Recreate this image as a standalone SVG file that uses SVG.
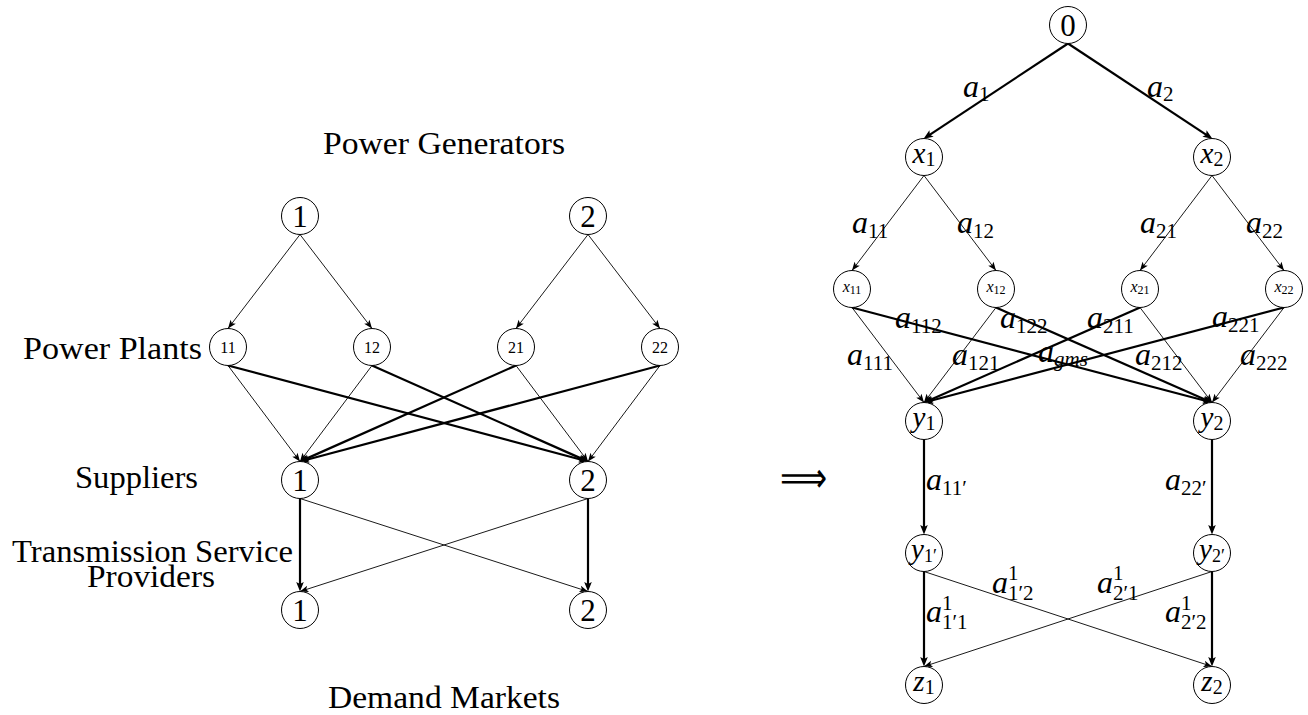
<svg xmlns="http://www.w3.org/2000/svg" width="1308" height="715" viewBox="0 0 1308 715">
<style>
  .bg{fill:#ffffff}
  .n{fill:#ffffff;stroke:#000;stroke-width:1}
  .t{stroke:#000;stroke-width:0.9;fill:none;marker-end:url(#ah)}
  .k{stroke:#000;stroke-width:2.2;fill:none;marker-end:url(#ahk)}
  text{font-family:"Liberation Serif","Times New Roman",serif;fill:#000}
  .big{font-size:31px;text-anchor:middle}
  .sm{font-size:16px;text-anchor:middle}
  .cap{font-size:32px}
  .it{font-style:italic}
  .lb{font-size:32px}
  .sub{font-size:21px}
</style>
<defs>
  <marker id="ah" viewBox="-9 -4 10 8" refX="0" refY="0" markerWidth="10" markerHeight="8" markerUnits="userSpaceOnUse" orient="auto">
    <path d="M0,0 L-8.5,-3.3 L-6.5,0 L-8.5,3.3 Z" fill="#000"/>
  </marker>
  <marker id="ahk" viewBox="-6 -4.5 11 9" refX="0" refY="0" markerWidth="11" markerHeight="9" markerUnits="userSpaceOnUse" orient="auto">
    <path d="M4.5,0 L-5,-3.8 L-3,0 L-5,3.8 Z" fill="#000"/>
  </marker>
</defs>
<rect class="bg" x="0" y="0" width="1308" height="715"/>

<g id="connectors">
  <!-- left thin -->
  <line class="t" x1="300" y1="234.5" x2="228" y2="328.5"/>
  <line class="t" x1="300" y1="234.5" x2="372" y2="328.5"/>
  <line class="t" x1="588" y1="234.5" x2="516" y2="328.5"/>
  <line class="t" x1="588" y1="234.5" x2="660" y2="328.5"/>
  <line class="t" x1="228" y1="365.5" x2="300" y2="461.5"/>
  <line class="t" x1="372" y1="365.5" x2="300" y2="461.5"/>
  <line class="t" x1="516" y1="365.5" x2="588" y2="461.5"/>
  <line class="t" x1="660" y1="365.5" x2="588" y2="461.5"/>
  <line class="t" x1="300" y1="498.5" x2="588" y2="591.5"/>
  <line class="t" x1="588" y1="498.5" x2="300" y2="591.5"/>
  <!-- left thick -->
  <line class="k" x1="228" y1="365.5" x2="584.14" y2="460.47"/>
  <line class="k" x1="372" y1="365.5" x2="584.34" y2="459.88"/>
  <line class="k" x1="516" y1="365.5" x2="303.66" y2="459.88"/>
  <line class="k" x1="660" y1="365.5" x2="303.86" y2="460.47"/>
  <line class="k" x1="300" y1="498.5" x2="300" y2="587"/>
  <line class="k" x1="588" y1="498.5" x2="588" y2="587"/>
  <!-- right thick -->
  <line class="k" x1="1068" y1="43.5" x2="927.34" y2="136.3"/>
  <line class="k" x1="1068" y1="43.5" x2="1208.66" y2="136.3"/>
  <line class="k" x1="852" y1="307.5" x2="1208.13" y2="401.48"/>
  <line class="k" x1="996" y1="307.5" x2="1208.34" y2="400.89"/>
  <line class="k" x1="1140" y1="307.5" x2="927.66" y2="400.89"/>
  <line class="k" x1="1284" y1="307.5" x2="927.87" y2="401.48"/>
  <line class="k" x1="924" y1="439.5" x2="924" y2="530"/>
  <line class="k" x1="1212" y1="439.5" x2="1212" y2="530"/>
  <line class="k" x1="924" y1="571.5" x2="924" y2="662"/>
  <line class="k" x1="1212" y1="571.5" x2="1212" y2="662"/>
  <!-- right thin -->
  <line class="t" x1="924" y1="175.5" x2="852" y2="270.5"/>
  <line class="t" x1="924" y1="175.5" x2="996" y2="270.5"/>
  <line class="t" x1="1212" y1="175.5" x2="1140" y2="270.5"/>
  <line class="t" x1="1212" y1="175.5" x2="1284" y2="270.5"/>
  <line class="t" x1="852" y1="307.5" x2="924" y2="402.5"/>
  <line class="t" x1="996" y1="307.5" x2="924" y2="402.5"/>
  <line class="t" x1="1140" y1="307.5" x2="1212" y2="402.5"/>
  <line class="t" x1="1284" y1="307.5" x2="1212" y2="402.5"/>
  <line class="t" x1="924" y1="571.5" x2="1212" y2="666.5"/>
  <line class="t" x1="1212" y1="571.5" x2="924" y2="666.5"/>
</g>

<!-- left nodes -->
<g id="g1"><circle class="n" cx="300" cy="216" r="18.5"/><text class="big" x="300" y="226.5">1</text></g>
<g id="g2"><circle class="n" cx="588" cy="216" r="18.5"/><text class="big" x="588" y="226.5">2</text></g>
<g id="p11"><circle class="n" cx="228" cy="347" r="18.5"/><text class="sm" x="228" y="352.5">11</text></g>
<g id="p12"><circle class="n" cx="372" cy="347" r="18.5"/><text class="sm" x="372" y="352.5">12</text></g>
<g id="p21"><circle class="n" cx="516" cy="347" r="18.5"/><text class="sm" x="516" y="352.5">21</text></g>
<g id="p22"><circle class="n" cx="660" cy="347" r="18.5"/><text class="sm" x="660" y="352.5">22</text></g>
<g id="s1"><circle class="n" cx="300" cy="480" r="18.5"/><text class="big" x="300" y="490.5">1</text></g>
<g id="s2"><circle class="n" cx="588" cy="480" r="18.5"/><text class="big" x="588" y="490.5">2</text></g>
<g id="d1"><circle class="n" cx="300" cy="610" r="18.5"/><text class="big" x="300" y="620.5">1</text></g>
<g id="d2"><circle class="n" cx="588" cy="610" r="18.5"/><text class="big" x="588" y="620.5">2</text></g>

<!-- left captions -->
<g id="captions">
  <text class="cap" x="323" y="154" textLength="242" lengthAdjust="spacingAndGlyphs">Power Generators</text>
  <text class="cap" x="23" y="359" textLength="179" lengthAdjust="spacingAndGlyphs">Power Plants</text>
  <text class="cap" x="75" y="488" textLength="123" lengthAdjust="spacingAndGlyphs">Suppliers</text>
  <text class="cap" x="12" y="562" textLength="281" lengthAdjust="spacingAndGlyphs">Transmission Service</text>
  <text class="cap" x="87" y="587" textLength="128" lengthAdjust="spacingAndGlyphs">Providers</text>
  <text class="cap" x="328" y="708" textLength="232" lengthAdjust="spacingAndGlyphs">Demand Markets</text>
</g>

<g id="implies"><text x="780" y="492" font-family="DejaVu Sans, sans-serif" font-size="42" textLength="47" lengthAdjust="spacingAndGlyphs">⟹</text></g>

<!-- right nodes -->
<g id="n0"><circle class="n" cx="1068" cy="25" r="18.5"/><text class="big" x="1068" y="35.5">0</text></g>
<g id="x1"><circle class="n" cx="924" cy="157" r="18.5"/><text class="big" x="924" y="163"><tspan class="it" font-size="29">x</tspan><tspan font-size="20" dy="3">1</tspan></text></g>
<g id="x2"><circle class="n" cx="1212" cy="157" r="18.5"/><text class="big" x="1212" y="163"><tspan class="it" font-size="29">x</tspan><tspan font-size="20" dy="3">2</tspan></text></g>
<g id="x11"><circle class="n" cx="852" cy="289" r="18.5"/><text class="sm" x="852" y="292"><tspan class="it">x</tspan><tspan font-size="12" dy="2">11</tspan></text></g>
<g id="x12"><circle class="n" cx="996" cy="289" r="18.5"/><text class="sm" x="996" y="292"><tspan class="it">x</tspan><tspan font-size="12" dy="2">12</tspan></text></g>
<g id="x21"><circle class="n" cx="1140" cy="289" r="18.5"/><text class="sm" x="1140" y="292"><tspan class="it">x</tspan><tspan font-size="12" dy="2">21</tspan></text></g>
<g id="x22"><circle class="n" cx="1284" cy="289" r="18.5"/><text class="sm" x="1284" y="292"><tspan class="it">x</tspan><tspan font-size="12" dy="2">22</tspan></text></g>
<g id="y1"><circle class="n" cx="924" cy="421" r="18.5"/><text class="big" x="924" y="427"><tspan class="it" font-size="29">y</tspan><tspan font-size="20" dy="3">1</tspan></text></g>
<g id="y2"><circle class="n" cx="1212" cy="421" r="18.5"/><text class="big" x="1212" y="427"><tspan class="it" font-size="29">y</tspan><tspan font-size="20" dy="3">2</tspan></text></g>
<g id="y1p"><circle class="n" cx="924" cy="553" r="18.5"/><text class="big" x="924" y="559"><tspan class="it" font-size="29">y</tspan><tspan font-size="18" dy="3">1′</tspan></text></g>
<g id="y2p"><circle class="n" cx="1212" cy="553" r="18.5"/><text class="big" x="1212" y="559"><tspan class="it" font-size="29">y</tspan><tspan font-size="18" dy="3">2′</tspan></text></g>
<g id="z1"><circle class="n" cx="924" cy="685" r="18.5"/><text class="big" x="924" y="691"><tspan class="it" font-size="29">z</tspan><tspan font-size="20" dy="3">1</tspan></text></g>
<g id="z2"><circle class="n" cx="1212" cy="685" r="18.5"/><text class="big" x="1212" y="691"><tspan class="it" font-size="29">z</tspan><tspan font-size="20" dy="3">2</tspan></text></g>

<!-- edge labels -->
<g id="edge-labels" class="lb">
  <text class="lb" x="963" y="97"><tspan class="it">a</tspan><tspan class="sub" dy="4">1</tspan></text>
  <text class="lb" x="1147" y="97"><tspan class="it">a</tspan><tspan class="sub" dy="4">2</tspan></text>
  <text class="lb" x="852" y="233"><tspan class="it">a</tspan><tspan class="sub" dy="5">11</tspan></text>
  <text class="lb" x="957" y="233"><tspan class="it">a</tspan><tspan class="sub" dy="5">12</tspan></text>
  <text class="lb" x="1140" y="233"><tspan class="it">a</tspan><tspan class="sub" dy="5">21</tspan></text>
  <text class="lb" x="1246" y="233"><tspan class="it">a</tspan><tspan class="sub" dy="5">22</tspan></text>
  <text class="lb" x="895" y="328"><tspan class="it">a</tspan><tspan class="sub" dy="5">112</tspan></text>
  <text class="lb" x="1000" y="328"><tspan class="it">a</tspan><tspan class="sub" dy="5">122</tspan></text>
  <text class="lb" x="1087" y="328"><tspan class="it">a</tspan><tspan class="sub" dy="5">211</tspan></text>
  <text class="lb" x="1212" y="327"><tspan class="it">a</tspan><tspan class="sub" dy="5">221</tspan></text>
  <text class="lb" x="847" y="365"><tspan class="it">a</tspan><tspan class="sub" dy="5">111</tspan></text>
  <text class="lb" x="952" y="365"><tspan class="it">a</tspan><tspan class="sub" dy="5">121</tspan></text>
  <text class="lb" x="1038" y="362"><tspan class="it">a</tspan><tspan class="sub it" dy="4">gms</tspan></text>
  <text class="lb" x="1135" y="365"><tspan class="it">a</tspan><tspan class="sub" dy="5">212</tspan></text>
  <text class="lb" x="1240" y="365"><tspan class="it">a</tspan><tspan class="sub" dy="5">222</tspan></text>
  <text class="lb" x="926" y="490"><tspan class="it">a</tspan><tspan class="sub" dy="5">11′</tspan></text>
  <text class="lb" x="1165" y="490"><tspan class="it">a</tspan><tspan class="sub" dy="5">22′</tspan></text>
  <text class="lb" x="992" y="593"><tspan class="it">a</tspan><tspan class="sub" x="1008" y="580">1</tspan><tspan class="sub" x="1008" y="600">1′2</tspan></text>
  <text class="lb" x="1097" y="593"><tspan class="it">a</tspan><tspan class="sub" x="1113" y="580">1</tspan><tspan class="sub" x="1113" y="600">2′1</tspan></text>
  <text class="lb" x="926" y="622"><tspan class="it">a</tspan><tspan class="sub" x="942" y="610">1</tspan><tspan class="sub" x="942" y="629">1′1</tspan></text>
  <text class="lb" x="1165" y="622"><tspan class="it">a</tspan><tspan class="sub" x="1181" y="610">1</tspan><tspan class="sub" x="1181" y="629">2′2</tspan></text>
</g>
</svg>
